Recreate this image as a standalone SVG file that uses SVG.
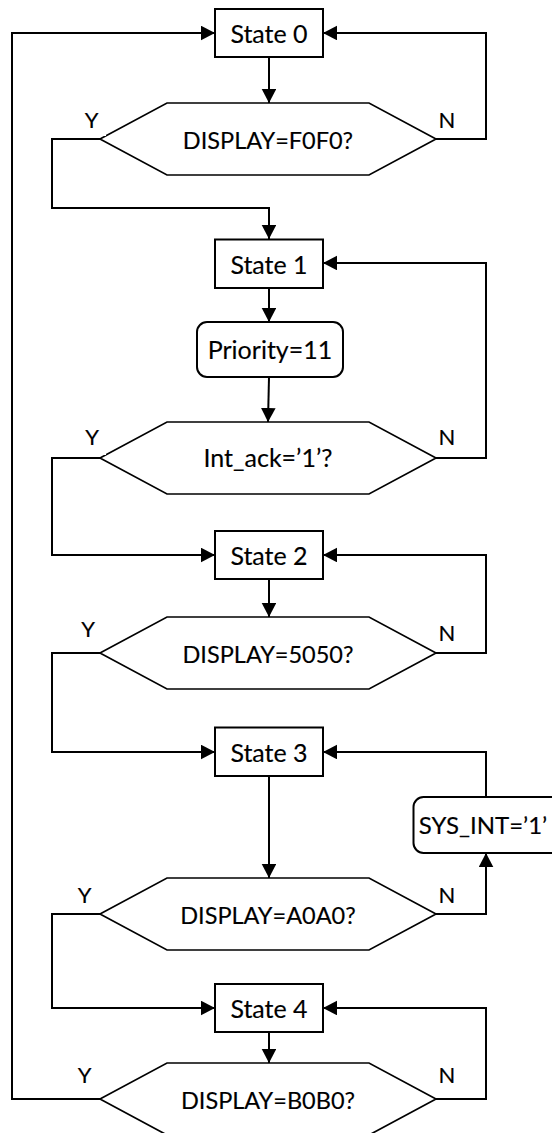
<svg xmlns="http://www.w3.org/2000/svg" width="552" height="1133" viewBox="0 0 552 1133">
  <style>
    .box { fill: #fff; stroke: #000; stroke-width: 2; }
    .hex { fill: #fff; stroke: #000; stroke-width: 1.7; }
    .wire { fill: none; stroke: #000; stroke-width: 2; }
    .lbl { font-family: Lato, "Liberation Sans", sans-serif; font-size: 25px; fill: #000; stroke: #000; stroke-width: 0.15; text-anchor: middle; }
    .cond { font-size: 23.5px; }
    .yn { font-family: Lato, "Liberation Sans", sans-serif; font-size: 22px; fill: #000; stroke: #000; stroke-width: 0.15; text-anchor: middle; }
  </style>
  <defs>
    <marker id="arrow" markerUnits="userSpaceOnUse" markerWidth="15" markerHeight="15" refX="14" refY="7.3" orient="auto">
      <path d="M0,0 L14,7.3 L0,14.6 Z" fill="#000"/>
    </marker>
  </defs>
  <rect width="552" height="1133" fill="#fff"/>

  <!-- connectors -->
  <g id="connectors">
    <!-- downward flow -->
    <line class="wire" x1="269" y1="57" x2="269" y2="103" marker-end="url(#arrow)"/>
    <line class="wire" x1="269" y1="288" x2="269" y2="322" marker-end="url(#arrow)"/>
    <line class="wire" x1="269" y1="377" x2="268" y2="422" marker-end="url(#arrow)"/>
    <line class="wire" x1="269" y1="579" x2="269" y2="617" marker-end="url(#arrow)"/>
    <line class="wire" x1="269" y1="776" x2="269" y2="878" marker-end="url(#arrow)"/>
    <line class="wire" x1="269" y1="1032" x2="269" y2="1063" marker-end="url(#arrow)"/>
    <!-- Y branches -->
    <polyline class="wire" points="100,139 52,139 52,208 269,208 269,239" marker-end="url(#arrow)"/>
    <polyline class="wire" points="100,458 52,458 52,555 215,555" marker-end="url(#arrow)"/>
    <polyline class="wire" points="100,653 52,653 52,752 215,752" marker-end="url(#arrow)"/>
    <polyline class="wire" points="100,914 52,914 52,1008 215,1008" marker-end="url(#arrow)"/>
    <polyline class="wire" points="100,1099 12,1099 12,33 215,33" marker-end="url(#arrow)"/>
    <!-- N branches -->
    <polyline class="wire" points="436,139 486,139 486,33 323,33" marker-end="url(#arrow)"/>
    <polyline class="wire" points="436,458 486,458 486,263 323,263" marker-end="url(#arrow)"/>
    <polyline class="wire" points="436,653 486,653 486,555 323,555" marker-end="url(#arrow)"/>
    <polyline class="wire" points="436,914 486,914 486,853" marker-end="url(#arrow)"/>
    <polyline class="wire" points="486,797 486,752 323,752" marker-end="url(#arrow)"/>
    <polyline class="wire" points="436,1099 486,1099 486,1008 323,1008" marker-end="url(#arrow)"/>
  </g>

  <!-- states -->
  <g id="state0">
    <rect class="box" x="215" y="9" width="108" height="48"/>
    <text class="lbl" x="269" y="43">State 0</text>
  </g>
  <g id="state1">
    <rect class="box" x="215" y="239.5" width="108" height="48.5"/>
    <text class="lbl" x="269" y="273.5">State 1</text>
  </g>
  <g id="state2">
    <rect class="box" x="215" y="531" width="108" height="48"/>
    <text class="lbl" x="269" y="565">State 2</text>
  </g>
  <g id="state3">
    <rect class="box" x="215" y="727.5" width="108" height="48.5"/>
    <text class="lbl" x="269" y="762">State 3</text>
  </g>
  <g id="state4">
    <rect class="box" x="215" y="984" width="108" height="48"/>
    <text class="lbl" x="269" y="1018">State 4</text>
  </g>

  <!-- actions -->
  <g id="priority">
    <rect class="box" x="197" y="322" width="146" height="55" rx="10"/>
    <text class="lbl" x="270" y="359">Priority=11</text>
  </g>
  <g id="sysint">
    <rect class="box" x="413.5" y="797" width="150" height="56" rx="10"/>
    <text class="lbl" x="483" y="834" style="font-size:24px">SYS_INT=’1’</text>
  </g>

  <!-- decisions -->
  <g id="check0">
    <polygon class="hex" points="100,139 167,103 369,103 436,139 369,175 167,175"/>
    <text class="lbl cond" x="268" y="148.5">DISPLAY=F0F0?</text>
    <rect x="84" y="111" width="22" height="25" fill="#fff"/>
    <text class="yn" x="91.5" y="128">Y</text>
    <text class="yn" x="447" y="128">N</text>
  </g>
  <g id="check1">
    <polygon class="hex" points="100,458 167,422 369,422 436,458 369,494 167,494"/>
    <text class="lbl" x="268" y="467">Int_ack=’1’?</text>
    <rect x="84" y="430" width="22" height="25" fill="#fff"/>
    <text class="yn" x="92" y="445">Y</text>
    <text class="yn" x="447" y="445">N</text>
  </g>
  <g id="check2">
    <polygon class="hex" points="100,653 167,617 369,617 436,653 369,689 167,689"/>
    <text class="lbl cond" x="268" y="662.5">DISPLAY=5050?</text>
    <text class="yn" x="88" y="637">Y</text>
    <text class="yn" x="447" y="641">N</text>
  </g>
  <g id="check3">
    <polygon class="hex" points="100,914 167,878 369,878 436,914 369,950 167,950"/>
    <text class="lbl cond" x="268" y="923.5">DISPLAY=A0A0?</text>
    <text class="yn" x="84.5" y="903">Y</text>
    <text class="yn" x="447" y="903">N</text>
  </g>
  <g id="check4">
    <polygon class="hex" points="100,1099 167,1063 369,1063 436,1099 369,1135 167,1135"/>
    <text class="lbl cond" x="268" y="1108.5">DISPLAY=B0B0?</text>
    <text class="yn" x="84.5" y="1083">Y</text>
    <text class="yn" x="447" y="1083">N</text>
  </g>
</svg>
